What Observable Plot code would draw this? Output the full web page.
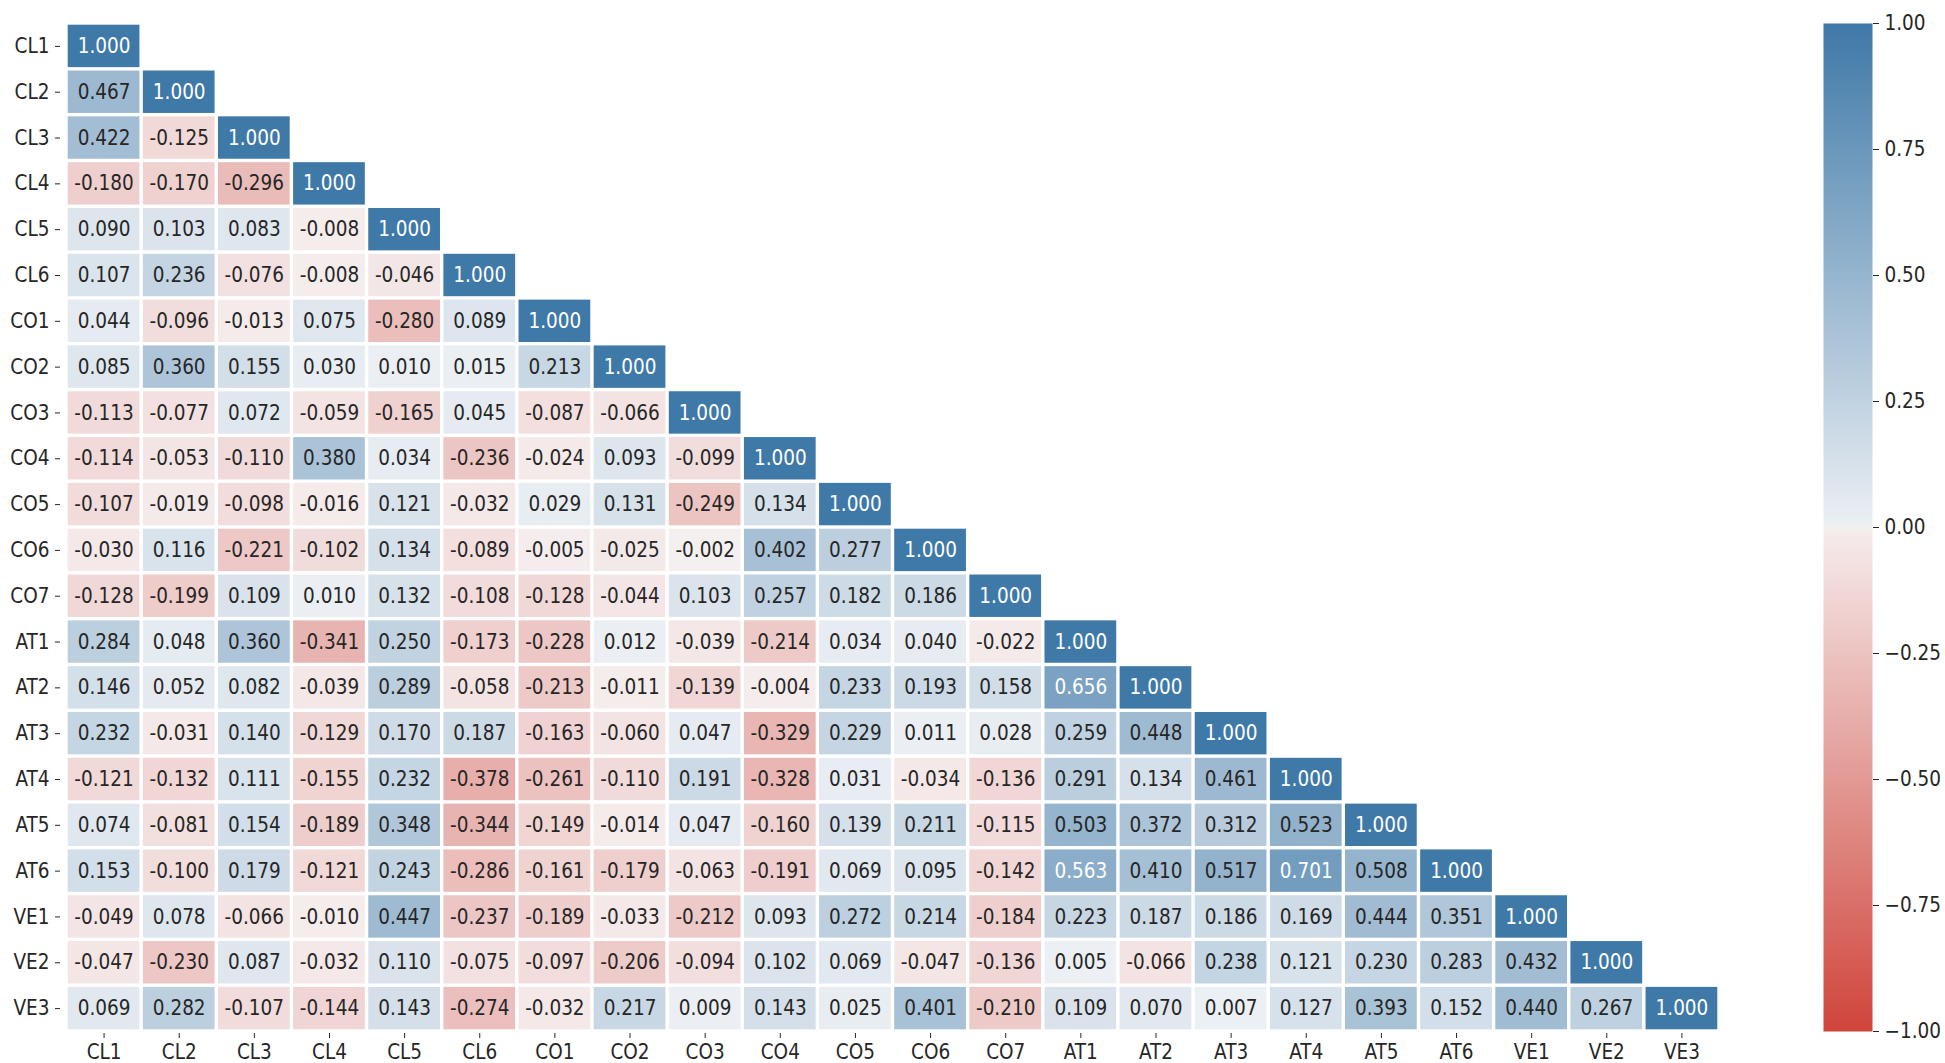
<!DOCTYPE html>
<html>
<head>
<meta charset="utf-8">
<script src="https://cdn.jsdelivr.net/npm/d3@7"></script>
<script src="https://cdn.jsdelivr.net/npm/@observablehq/plot@0.6"></script>
<style>
  body { margin: 0; background: #fff; }
  #wrap { position: relative; width: 1945px; height: 1063px; overflow: hidden; }
  #wrap > svg { position: absolute; top: 0; }
</style>
</head>
<body>
<div id="wrap"></div>
<script>
// Variable names (rows and columns)
const labels = ["CL1","CL2","CL3","CL4","CL5","CL6","CO1","CO2","CO3","CO4","CO5","CO6","CO7",
                "AT1","AT2","AT3","AT4","AT5","AT6","VE1","VE2","VE3"];

// Lower-triangular correlation rows
const rCL1 = [1.000];
const rCL2 = [0.467, 1.000];
const rCL3 = [0.422, -0.125, 1.000];
const rCL4 = [-0.180, -0.170, -0.296, 1.000];
const rCL5 = [0.090, 0.103, 0.083, -0.008, 1.000];
const rCL6 = [0.107, 0.236, -0.076, -0.008, -0.046, 1.000];
const rCO1 = [0.044, -0.096, -0.013, 0.075, -0.280, 0.089, 1.000];
const rCO2 = [0.085, 0.360, 0.155, 0.030, 0.010, 0.015, 0.213, 1.000];
const rCO3 = [-0.113, -0.077, 0.072, -0.059, -0.165, 0.045, -0.087, -0.066, 1.000];
const rCO4 = [-0.114, -0.053, -0.110, 0.380, 0.034, -0.236, -0.024, 0.093, -0.099, 1.000];
const rCO5 = [-0.107, -0.019, -0.098, -0.016, 0.121, -0.032, 0.029, 0.131, -0.249, 0.134, 1.000];
const rCO6 = [-0.030, 0.116, -0.221, -0.102, 0.134, -0.089, -0.005, -0.025, -0.002, 0.402, 0.277, 1.000];
const rCO7 = [-0.128, -0.199, 0.109, 0.010, 0.132, -0.108, -0.128, -0.044, 0.103, 0.257, 0.182, 0.186, 1.000];
const rAT1 = [0.284, 0.048, 0.360, -0.341, 0.250, -0.173, -0.228, 0.012, -0.039, -0.214, 0.034, 0.040, -0.022, 1.000];
const rAT2 = [0.146, 0.052, 0.082, -0.039, 0.289, -0.058, -0.213, -0.011, -0.139, -0.004, 0.233, 0.193, 0.158, 0.656, 1.000];
const rAT3 = [0.232, -0.031, 0.140, -0.129, 0.170, 0.187, -0.163, -0.060, 0.047, -0.329, 0.229, 0.011, 0.028, 0.259, 0.448, 1.000];
const rAT4 = [-0.121, -0.132, 0.111, -0.155, 0.232, -0.378, -0.261, -0.110, 0.191, -0.328, 0.031, -0.034, -0.136, 0.291, 0.134, 0.461, 1.000];
const rAT5 = [0.074, -0.081, 0.154, -0.189, 0.348, -0.344, -0.149, -0.014, 0.047, -0.160, 0.139, 0.211, -0.115, 0.503, 0.372, 0.312, 0.523, 1.000];
const rAT6 = [0.153, -0.100, 0.179, -0.121, 0.243, -0.286, -0.161, -0.179, -0.063, -0.191, 0.069, 0.095, -0.142, 0.563, 0.410, 0.517, 0.701, 0.508, 1.000];
const rVE1 = [-0.049, 0.078, -0.066, -0.010, 0.447, -0.237, -0.189, -0.033, -0.212, 0.093, 0.272, 0.214, -0.184, 0.223, 0.187, 0.186, 0.169, 0.444, 0.351, 1.000];
const rVE2 = [-0.047, -0.230, 0.087, -0.032, 0.110, -0.075, -0.097, -0.206, -0.094, 0.102, 0.069, -0.047, -0.136, 0.005, -0.066, 0.238, 0.121, 0.230, 0.283, 0.432, 1.000];
const rVE3 = [0.069, 0.282, -0.107, -0.144, 0.143, -0.274, -0.032, 0.217, 0.009, 0.143, 0.025, 0.401, -0.210, 0.109, 0.070, 0.007, 0.127, 0.393, 0.152, 0.440, 0.267, 1.000];

const rows = [rCL1,rCL2,rCL3,rCL4,rCL5,rCL6,rCO1,rCO2,rCO3,rCO4,rCO5,rCO6,rCO7,
              rAT1,rAT2,rAT3,rAT4,rAT5,rAT6,rVE1,rVE2,rVE3];

// Colorbar ticks
const cbarTicks = [-1, -0.75, -0.5, -0.25, 0, 0.25, 0.5, 0.75, 1];

// Diverging colormap (red -> light -> blue)
const cDomain = [-1, -0.004, 0, 0.004, 1];
const cRange = ["#d0453c", "#f5eded", "#f2f2f2", "#ecf0f4", "#3f79a8"];

const cells = [];
rows.forEach((r, i) => r.forEach((v, j) => cells.push({row: labels[i], col: labels[j], v})));

// Text colour like seaborn: white on dark cells
const cs = d3.scaleLinear().domain(cDomain).range(cRange).interpolate(d3.interpolateRgb).clamp(true);
function lum(c) {
  const k = d3.rgb(c);
  const f = x => { x /= 255; return x <= 0.03928 ? x / 12.92 : Math.pow((x + 0.055) / 1.055, 2.4); };
  return 0.2126 * f(k.r) + 0.7152 * f(k.g) + 0.0722 * f(k.b);
}
cells.forEach(d => d.dark = lum(cs(d.v)) <= 0.408);

const font = '"DejaVu Sans Condensed", "DejaVu Sans", sans-serif';
const fs = 20.5;
const colorScale = {type: "linear", domain: cDomain, range: cRange, interpolate: "rgb", clamp: true};

const W = 1945, H = 1063;
const main = Plot.plot({
  width: W, height: H,
  marginLeft: 66, marginRight: W - 1719, marginTop: 23, marginBottom: H - 1031,
  style: {fontFamily: font, fontSize: fs + "px", color: "#262626", background: "transparent", fontStretch: "condensed"},
  x: {domain: labels, padding: 0, round: false, label: null},
  y: {domain: labels, padding: 0, round: false, label: null},
  color: colorScale,
  marks: [
    Plot.cell(cells, {x: "col", y: "row", fill: "v", inset: 1.7}),
    Plot.text(cells.filter(d => !d.dark), {x: "col", y: "row", text: d => d.v.toFixed(3), fill: "#262626", fontSize: fs}),
    Plot.text(cells.filter(d => d.dark), {x: "col", y: "row", text: d => d.v.toFixed(3), fill: "#ffffff", fontSize: fs}),
    Plot.axisY({tickSize: 5, tickPadding: 6, dx: -6, label: null}),
    // x ticks (offset below the cells) and x labels separately
    Plot.axisX({tickSize: 5, dy: 2, tickFormat: () => "", label: null}),
    Plot.axisX({tickSize: 0, tickPadding: 13, label: null})
  ]
});
main.style.left = "0px";
document.getElementById("wrap").appendChild(main);

const cbX = 1823, cbW = 49, cbTotal = W - cbX;
const cbar = Plot.plot({
  width: cbTotal, height: H,
  marginLeft: 0, marginRight: cbTotal - cbW, marginTop: 23, marginBottom: H - 1031,
  style: {fontFamily: font, fontSize: fs + "px", color: "#262626", background: "transparent", fontStretch: "condensed"},
  x: {domain: [0, 1], axis: null},
  y: {domain: [-1, 1], label: null},
  color: colorScale,
  marks: [
    Plot.raster({x1: 0, x2: 1, y1: -1, y2: 1, width: 2, height: 512, fill: (x, y) => y, imageRendering: "auto"}),
    Plot.axisY({anchor: "right", ticks: cbarTicks, tickFormat: d3.format(".2f"), tickSize: 6, tickPadding: 6, label: null})
  ]
});
cbar.style.left = cbX + "px";
document.getElementById("wrap").appendChild(cbar);
</script>
</body>
</html>
